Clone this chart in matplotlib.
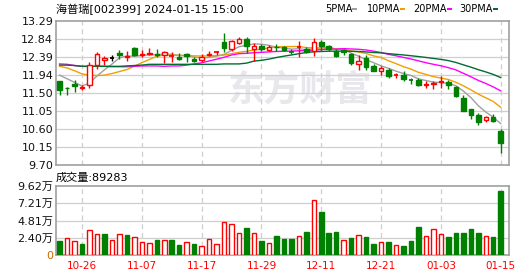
import numpy as np
import pandas as pd
import matplotlib
matplotlib.use("Agg")
import matplotlib.pyplot as plt
from matplotlib.patches import Rectangle

plt.rcParams['font.family'] = ['DejaVu Sans', 'Noto Sans CJK SC']

# daily bars, 2023-10-23 .. 2024-01-15 (60 trading days)
open_ = [11.79, 11.63, 11.73, 11.62, 11.70, 12.20, 12.33, 12.38, 12.48, 12.40,
         12.62, 12.43, 12.46, 12.47, 12.45, 12.40, 12.39, 12.47, 12.35, 12.33,
         12.43, 12.50, 12.77, 12.60, 12.74, 12.85, 12.60, 12.66, 12.56, 12.65,
         12.63, 12.53, 12.64, 12.59, 12.55, 12.77, 12.66, 12.55, 12.56, 12.47,
         12.22, 12.36, 12.18, 12.04, 12.08, 11.94, 11.94, 11.82, 11.83, 11.70,
         11.73, 11.77, 11.77, 11.64, 11.37, 11.10, 10.94, 10.81, 10.90, 10.56]
high = [11.80, 11.64, 11.81, 11.70, 12.26, 12.52, 12.42, 12.43, 12.57, 12.53,
        12.63, 12.57, 12.62, 12.58, 12.55, 12.52, 12.49, 12.49, 12.39, 12.47,
        12.55, 12.55, 12.99, 12.82, 12.89, 12.89, 12.74, 12.72, 12.68, 12.72,
        12.66, 12.60, 12.78, 12.63, 12.87, 12.82, 12.70, 12.60, 12.60, 12.49,
        12.45, 12.44, 12.22, 12.16, 12.12, 11.99, 12.04, 11.87, 11.87, 11.79,
        11.79, 11.92, 11.83, 11.66, 11.44, 11.10, 11.00, 10.93, 10.97, 10.60]
low = [11.45, 11.44, 11.52, 11.58, 11.62, 12.10, 12.20, 12.29, 12.35, 12.30,
       12.41, 12.39, 12.43, 12.39, 12.24, 12.27, 12.32, 12.26, 12.27, 12.27,
       12.41, 12.45, 12.51, 12.53, 12.72, 12.49, 12.30, 12.55, 12.53, 12.55,
       12.53, 12.46, 12.39, 12.48, 12.42, 12.53, 12.53, 12.40, 12.45, 12.20,
       12.08, 12.06, 12.04, 11.94, 11.87, 11.87, 11.79, 11.73, 11.66, 11.62,
       11.60, 11.62, 11.60, 11.39, 11.04, 10.85, 10.70, 10.77, 10.77, 10.00]
close = [11.58, 11.61, 11.68, 11.64, 12.20, 12.47, 12.38, 12.38, 12.43, 12.42,
         12.44, 12.47, 12.48, 12.43, 12.51, 12.41, 12.34, 12.41, 12.30, 12.39,
         12.47, 12.51, 12.62, 12.79, 12.85, 12.66, 12.67, 12.59, 12.64, 12.63,
         12.56, 12.52, 12.65, 12.51, 12.76, 12.66, 12.60, 12.42, 12.51, 12.24,
         12.30, 12.15, 12.05, 12.12, 11.93, 11.95, 11.85, 11.81, 11.70, 11.72,
         11.75, 11.79, 11.70, 11.43, 11.05, 10.95, 10.77, 10.90, 10.79, 10.25]
pre_close = 11.80
volume = [19500, 23200, 19500, 15300, 34800, 29300, 29300, 20900, 29300, 27900,
          24600, 18100, 16700, 20900, 20900, 20900, 13900, 18100, 15300, 12500,
          21800, 15300, 46000, 43200, 30700, 37600, 30700, 19500, 16300, 26500,
          22300, 22300, 26000, 32100, 76200, 59900, 30700, 32100, 20400, 23700,
          27400, 24600, 15300, 18100, 18100, 13500, 12500, 19500, 39000, 26000,
          35800, 29300, 25100, 30700, 30700, 36200, 30700, 26000, 25100, 89283]

# moving averages before enough history is inside the window
ma5_head = [11.94, 11.85, 11.76, 11.67]
ma10_head = [12.16, 12.12, 12.05, 11.97, 11.94, 11.93, 11.94, 11.98, 12.03]
ma20_head = [12.22, 12.21, 12.18, 12.16, 12.16, 12.16, 12.16, 12.15, 12.15, 12.15,
             12.16, 12.17, 12.17, 12.17, 12.16, 12.17, 12.17, 12.19, 12.22]
ma30_head = [12.19, 12.19, 12.18, 12.16, 12.16, 12.16, 12.16, 12.16, 12.16, 12.17,
             12.18, 12.19, 12.21, 12.21, 12.21, 12.21, 12.21, 12.21, 12.21, 12.21,
             12.21, 12.21, 12.22, 12.22, 12.22, 12.24, 12.29, 12.31, 12.34]

date_ticks = [3, 11, 19, 27, 35, 43, 51, 59]
date_labels = ['10-26', '11-07', '11-17', '11-29', '12-11', '12-21', '01-03', '01-15']
price_min, price_max = 9.70, 13.29
price_labels = ['9.70', '10.15', '10.60', '11.05', '11.50', '11.94', '12.39', '12.84', '13.29']
vol_max = 96200
vol_labels = ['0', '2.40万', '4.81万', '7.21万', '9.62万']

RED = '#ff0000'
GREEN = '#008000'
GRID = '#cfcfcf'
FRAME = '#a0a0a0'

n = len(close)
x = np.arange(n)
prev = np.array([pre_close] + close[:-1])
o = np.array(open_)
c = np.array(close)

s = pd.Series(close)
def moving(w, head):
    m = s.rolling(w).mean().to_numpy()
    m[:w - 1] = head
    return m

ma_lines = [(moving(5, ma5_head), '#a0a0a0'),
            (moving(10, ma10_head), '#f0a000'),
            (moving(20, ma20_head), '#ff00ff'),
            (moving(30, ma30_head), '#006d32')]

fig = plt.figure(figsize=(5.3, 2.76), dpi=100)
W, H = 530, 276
ax = fig.add_axes([56 / W, 1 - 165 / H, 453 / W, 144 / H])
axv = fig.add_axes([56 / W, 1 - 255 / H, 453 / W, 69 / H])

xlim = (-0.48, 60.11)
for a in (ax, axv):
    a.set_xlim(*xlim)
    for sp in a.spines.values():
        sp.set_color(FRAME)
        sp.set_linewidth(1.2)
    a.tick_params(length=0)
    for d in date_ticks:
        a.axvline(d, color=GRID, lw=0.9, ls=(0, (4, 3)), zorder=1)

# price panel
pt = np.linspace(price_min, price_max, len(price_labels))
ax.set_ylim(price_min, price_max)
ax.set_yticks(pt)
ax.set_yticklabels(price_labels, fontsize=8, color='#111111')
ax.tick_params(axis='y', pad=2)
ax.set_xticks([])
for v in pt[1:-1]:
    ax.axhline(v, color=GRID, lw=0.9, zorder=1)

ax.text(0.54, 0.52, '东方财富', transform=ax.transAxes, ha='center', va='center',
        fontsize=26, fontweight='bold', color='#e8e8ec', zorder=0.5,
        family=['Noto Sans CJK SC'])

bw = 0.6
for i in range(n):
    if c[i] > o[i]:
        col = RED
    elif c[i] < o[i]:
        col = GREEN
    else:
        col = RED if c[i] > prev[i] else (GREEN if c[i] < prev[i] else '#000000')
    ax.vlines(i, low[i], high[i], color=col, lw=1, zorder=3)
    lo, hi = min(o[i], c[i]), max(o[i], c[i])
    if hi - lo < 0.015:
        ax.hlines((o[i] + c[i]) / 2, i - bw / 2, i + bw / 2, color=col, lw=1.3, zorder=4)
    else:
        face = 'white' if col == RED else col
        ax.add_patch(Rectangle((i - bw / 2, lo), bw, hi - lo, facecolor=face,
                               edgecolor=col, lw=1, zorder=4))

for m, col in ma_lines:
    ax.plot(x, m, color=col, lw=1, zorder=2.5)

# volume panel
up = c >= prev
axv.bar(x, volume, width=bw, color=np.where(up, 'white', GREEN),
        edgecolor=np.where(up, RED, GREEN), lw=1, zorder=3)
vt = np.linspace(0, vol_max, len(vol_labels))
axv.set_ylim(0, vol_max)
axv.set_yticks(vt)
axv.set_yticklabels(vol_labels, fontsize=8, color='#111111')
axv.get_yticklabels()[0].set_color('#cc6600')
axv.tick_params(axis='y', pad=2)
for v in vt[1:-1]:
    axv.axhline(v, color=GRID, lw=0.9, zorder=1)
axv.set_xticks(date_ticks)
axv.set_xticklabels(date_labels, fontsize=7.5, color=RED)
axv.tick_params(axis='x', pad=4)

# header texts
fig.text(56 / W, 1 - 9 / H, '海普瑞[002399] 2024-01-15 15:00', fontsize=8,
         ha='left', va='center', color='#000000')
fig.text(56 / W, 1 - 178 / H, '成交量:%d' % volume[-1], fontsize=8,
         ha='left', va='center', color='#000000')

legend_items = [('5PMA', 325, 352), ('10PMA', 367, 400), ('20PMA', 413, 447), ('30PMA', 459, 493)]
for (name, tx, sx), (_, col) in zip(legend_items, ma_lines):
    fig.text(tx / W, 1 - 9 / H, name, fontsize=7, ha='left', va='center', color='#000000')
    fig.patches.append(Rectangle((sx / W, 1 - 10.3 / H), 5 / W, 2.5 / H,
                                 transform=fig.transFigure, facecolor=col,
                                 edgecolor='none'))

fig.savefig('out.png', dpi=100)
